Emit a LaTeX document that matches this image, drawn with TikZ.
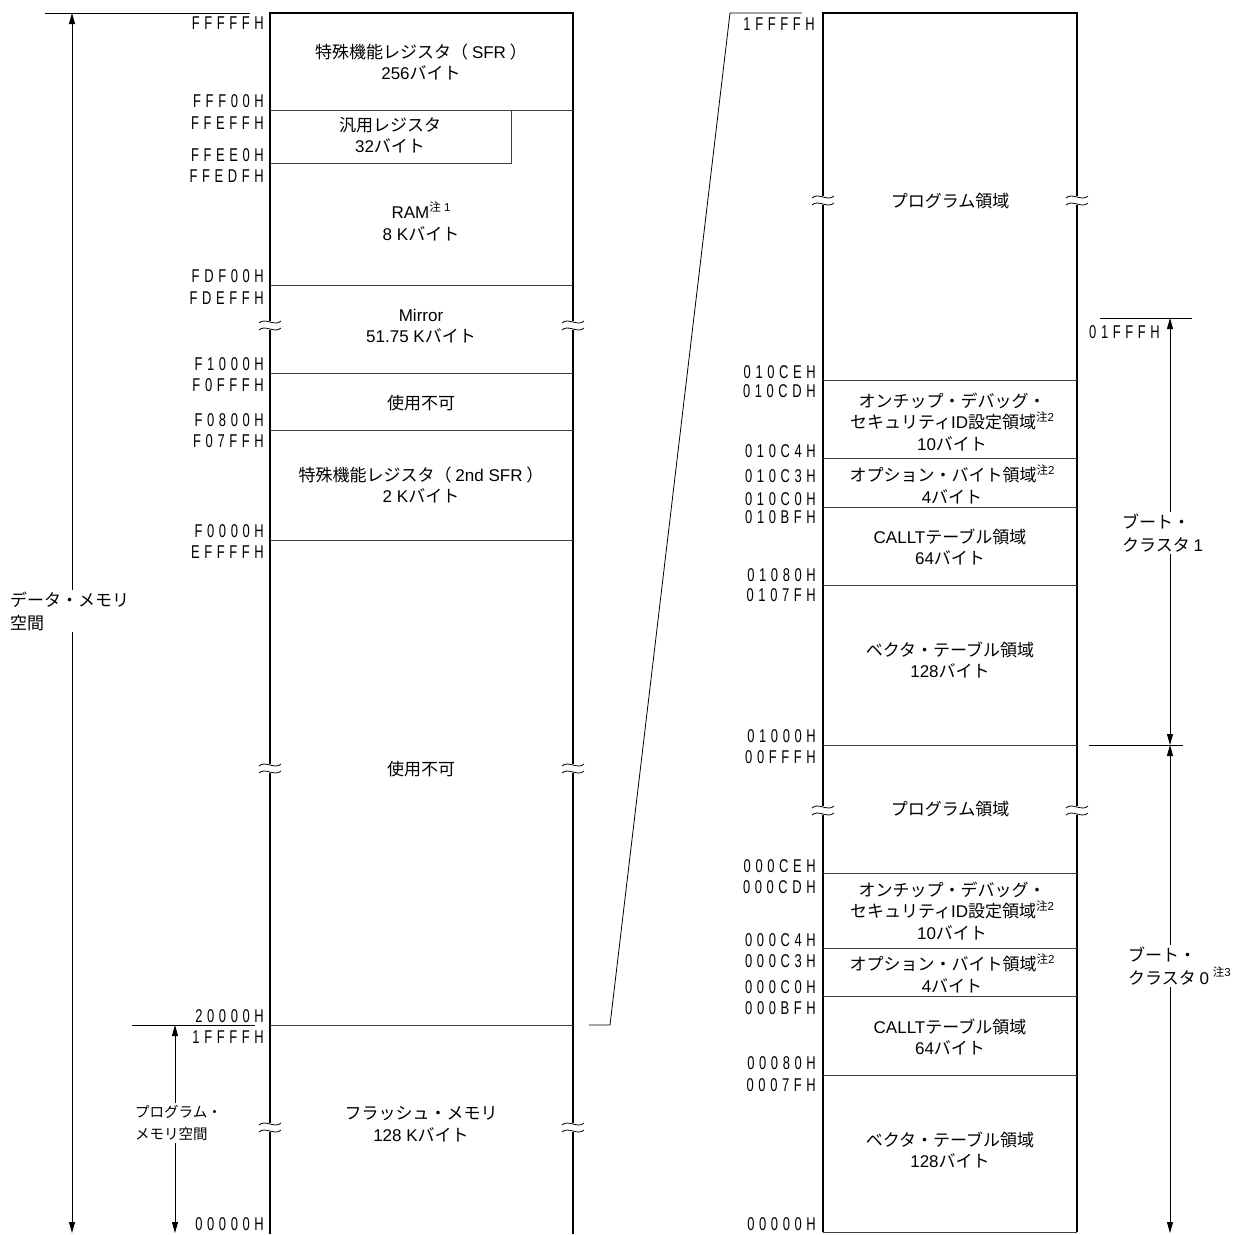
\documentclass[tikz,border=0pt]{standalone}
\usepackage{fontspec}
\setmainfont{Noto Sans CJK JP}
\newfontfamily\latf{Liberation Sans}
\newfontfamily\addrfont[FakeStretch=0.7,LetterSpace=25]{Liberation Sans}
\usetikzlibrary{arrows.meta}
\newcommand\la[1]{{\latf #1}}
\newcommand\chu[1]{\raisebox{0.45em}{\fontsize{11.5}{11.5}\selectfont 注{\latf #1}}}
\newcommand\brkmark[2]{%
  \fill[white] (#1-3,#2-4) rectangle (#1+3,#2+5);
  \draw[line width=0.8pt] (#1-11,#2-2) .. controls (#1-5,#2-8) and (#1+5,#2+2) .. (#1+11,#2-4);
  \draw[line width=0.8pt] (#1-11,#2+5) .. controls (#1-5,#2-1) and (#1+5,#2+9) .. (#1+11,#2+3);
}
\tikzset{
  colline/.style={line width=1.6pt},
  sepline/.style={line width=0.8pt, draw=black!75},
  addr/.style={font=\addrfont\fontsize{18.5}{18.5}\selectfont, anchor=east, inner sep=0pt},
  txt/.style={font=\fontsize{17}{21.5}\selectfont, align=center, inner sep=0pt},
  lbl/.style={font=\fontsize{17}{23}\selectfont, align=left, inner sep=2pt, fill=white, anchor=west},
  dimline/.style={line width=0.8pt, {Triangle[length=11pt,width=6pt]}-{Triangle[length=11pt,width=6pt]}},
  thinline/.style={line width=0.8pt}
}
\begin{document}
\begin{tikzpicture}[x=1pt,y=-1pt]
\useasboundingbox (0,0) rectangle (1239,1234);
% ---------- left column ----------
\draw[colline] (270,1234) -- (270,13) -- (573,13) -- (573,1234);
\draw[sepline] (270,110) -- (573,110);
\draw[sepline] (270,163) -- (511,163) -- (511,110);
\draw[sepline] (270,285) -- (573,285);
\draw[sepline] (270,373) -- (573,373);
\draw[sepline] (270,430) -- (573,430);
\draw[sepline] (270,540) -- (573,540);
\draw[sepline] (270,1025) -- (573,1025);
\brkmark{270}{325}\brkmark{573}{325}
\brkmark{270}{768}\brkmark{573}{768}
\brkmark{270}{1127}\brkmark{573}{1127}
% left texts
\node[txt] (t1) at (421,62) {特殊機能レジスタ（ \la{SFR} ）\\\la{256}バイト};
\node[txt] (t2) at (390,135) {汎用レジスタ\\\la{32}バイト};
\node[txt] (t3) at (421,221) {\la{RAM}\chu{ 1}\\\la{8 K}バイト};
\node[txt] (t4) at (421,326) {\la{Mirror}\\\la{51.75 K}バイト};
\node[txt] (t5) at (421,403) {使用不可};
\node[txt] (t6) at (421,485) {特殊機能レジスタ（ \la{2nd SFR} ）\\\la{2 K}バイト};
\node[txt] (t7) at (421,769) {使用不可};
\node[txt] (t8) at (421,1124) {フラッシュ・メモリ\\\la{128 K}バイト};
% left addresses
\node[addr] (la1) at (264,23) {FFFFFH};
\node[addr] (la2) at (264,101) {FFF00H};
\node[addr] (la3) at (264,123) {FFEFFH};
\node[addr] (la4) at (264,155) {FFEE0H};
\node[addr] (la5) at (264,176) {FFEDFH};
\node[addr] (la6) at (264,276) {FDF00H};
\node[addr] (la7) at (264,298) {FDEFFH};
\node[addr] (la8) at (264,364) {F1000H};
\node[addr] (la9) at (264,385) {F0FFFH};
\node[addr] (la10) at (264,420) {F0800H};
\node[addr] (la11) at (264,441) {F07FFH};
\node[addr] (la12) at (264,531) {F0000H};
\node[addr] (la13) at (264,552) {EFFFFH};
\node[addr] (la14) at (264,1016) {20000H};
\node[addr] (la15) at (264,1037) {1FFFFH};
\node[addr] (la16) at (264,1224) {00000H};
% left dimension lines
\coordinate (topL1) at (45,13); \coordinate (topL2) at (250,13);
\draw[thinline] (topL1) -- (topL2);
\coordinate (pmL1) at (132,1025); \coordinate (pmL2) at (255,1025);
\draw[thinline] (pmL1) -- (pmL2);
\coordinate (dA) at (72,13); \coordinate (dB) at (72,1233);
\draw[dimline] (dA) -- (dB);
\node[lbl] (dlabel) at (8,611) {データ・メモリ\\空間};
\coordinate (pA) at (175,1025); \coordinate (pB) at (175,1233);
\draw[dimline] (pA) -- (pB);
\node[lbl, font=\fontsize{14.5}{22}\selectfont] (plabel) at (133,1123) {プログラム・\\メモリ空間};
% ---------- expansion lines ----------
\coordinate (e1) at (589,1025); \coordinate (e2) at (610,1025);
\coordinate (e3) at (730,13); \coordinate (e4) at (802,13);
\draw[thinline] (e1) -- (e2) -- (e3) -- (e4);
% ---------- right column ----------
\draw[colline] (823,1232) -- (823,13) -- (1077,13) -- (1077,1232);
\draw[sepline] (823,1232) -- (1077,1232);
\foreach \yy in {380,458,507,585,745,873,948,996,1075}
  \draw[sepline] (823,\yy) -- (1077,\yy);
\brkmark{823}{200}\brkmark{1077}{200}
\brkmark{823}{810}\brkmark{1077}{810}
% right texts
\node[txt] (r1) at (950,201) {プログラム領域};
\node[txt] (r2) at (952,422) {オンチップ・デバッグ・\\セキュリティ\la{ID}設定領域\chu{2}\\\la{10}バイト};
\node[txt] (r3) at (952,484) {オプション・バイト領域\chu{2}\\\la{4}バイト};
\node[txt] (r4) at (950,547) {\la{CALLT}テーブル領域\\\la{64}バイト};
\node[txt] (r5) at (950,660) {ベクタ・テーブル領域\\\la{128}バイト};
\node[txt] (r6) at (950,809) {プログラム領域};
\node[txt] (r7) at (952,911) {オンチップ・デバッグ・\\セキュリティ\la{ID}設定領域\chu{2}\\\la{10}バイト};
\node[txt] (r8) at (952,973) {オプション・バイト領域\chu{2}\\\la{4}バイト};
\node[txt] (r9) at (950,1037) {\la{CALLT}テーブル領域\\\la{64}バイト};
\node[txt] (r10) at (950,1150) {ベクタ・テーブル領域\\\la{128}バイト};
% right addresses
\node[addr] (ra1) at (815,24) {1FFFFH};
\node[addr] (ra2) at (816,372) {010CEH};
\node[addr] (ra3) at (816,391) {010CDH};
\node[addr] (ra4) at (816,451) {010C4H};
\node[addr] (ra5) at (816,476) {010C3H};
\node[addr] (ra6) at (816,499) {010C0H};
\node[addr] (ra7) at (816,517) {010BFH};
\node[addr] (ra8) at (816,575) {01080H};
\node[addr] (ra9) at (816,595) {0107FH};
\node[addr] (ra10) at (816,736) {01000H};
\node[addr] (ra11) at (816,757) {00FFFH};
\node[addr] (ra12) at (816,866) {000CEH};
\node[addr] (ra13) at (816,887) {000CDH};
\node[addr] (ra14) at (816,940) {000C4H};
\node[addr] (ra15) at (816,961) {000C3H};
\node[addr] (ra16) at (816,987) {000C0H};
\node[addr] (ra17) at (816,1008) {000BFH};
\node[addr] (ra18) at (816,1063) {00080H};
\node[addr] (ra19) at (816,1085) {0007FH};
\node[addr] (ra20) at (816,1224) {00000H};
\node[addr] (ra21) at (1160,332) {01FFFH};
% right dimension lines
\coordinate (b1a) at (1100,318); \coordinate (b1b) at (1192,318);
\draw[thinline] (b1a) -- (b1b);
\coordinate (b0a) at (1089,745); \coordinate (b0b) at (1183,745);
\draw[thinline] (b0a) -- (b0b);
\coordinate (c1) at (1170,318); \coordinate (c2) at (1170,745); \coordinate (c3) at (1170,1233);
\draw[dimline] (c1) -- (c2);
\draw[dimline] (c2) -- (c3);
\node[lbl] (bc1) at (1120,533) {ブート・\\クラスタ \la{1}};
\node[lbl] (bc0) at (1126,966) {ブート・\\クラスタ \la{0} \chu{3}};
\end{tikzpicture}
\end{document}
